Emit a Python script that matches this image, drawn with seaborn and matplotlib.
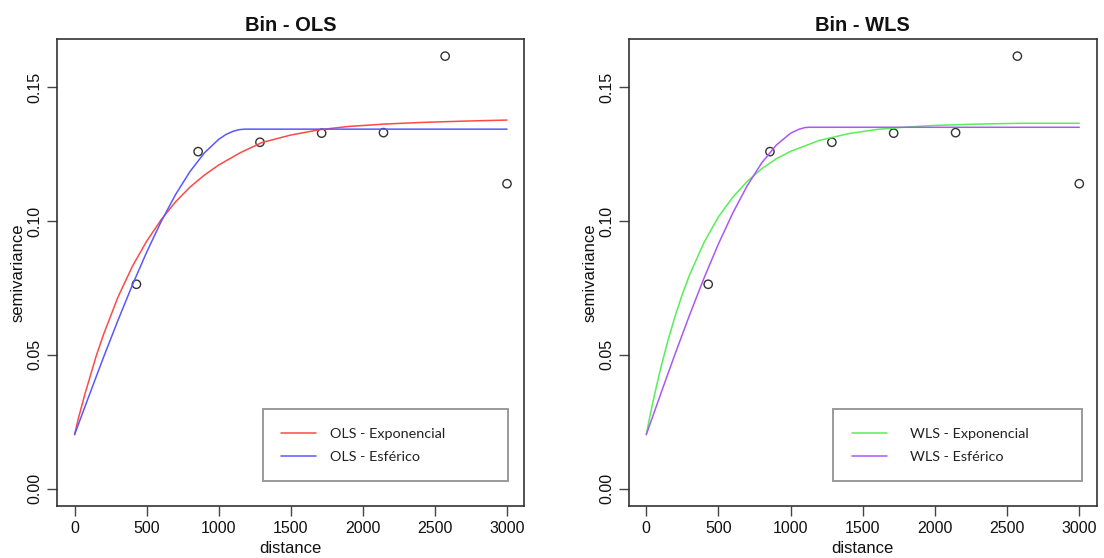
import matplotlib
matplotlib.use("Agg")
import matplotlib.pyplot as plt
import pandas as pd
import seaborn as sns

# ---- data ----
lag_dist = [429, 857, 1286, 1714, 2143, 2571, 3000]
semivar = [0.0764, 0.1260, 0.1295, 0.1329, 0.1331, 0.1617, 0.1140]

ols_exp_x = [0, 25, 50, 75, 100, 150, 200, 300, 400, 500, 600, 700, 800, 900,
             1000, 1150, 1300, 1500, 1700, 1900, 2150, 2400, 2700, 3000]
ols_exp_y = [0.0202, 0.0260, 0.0310, 0.0360, 0.0405, 0.0496, 0.0575, 0.0715,
             0.0830, 0.0925, 0.1005, 0.1072, 0.1127, 0.1172, 0.1210, 0.1256,
             0.1294, 0.1322, 0.1342, 0.1354, 0.1363, 0.1369, 0.1374, 0.1378]

ols_sph_x = [0, 100, 200, 300, 400, 500, 600, 700, 800, 900, 1000, 1050,
             1100, 1140, 1180, 3000]
ols_sph_y = [0.0202, 0.0347, 0.0490, 0.0628, 0.0760, 0.0884, 0.0998, 0.1099,
             0.1185, 0.1255, 0.1306, 0.1324, 0.1336, 0.1342, 0.1344, 0.1344]

wls_exp_x = [0, 25, 50, 75, 100, 150, 200, 250, 300, 400, 500, 600, 700, 800,
             900, 1000, 1200, 1400, 1600, 1800, 2000, 2300, 2600, 3000]
wls_exp_y = [0.0202, 0.0270, 0.0333, 0.0393, 0.0450, 0.0554, 0.0645, 0.0727,
             0.0799, 0.0920, 0.1016, 0.1090, 0.1149, 0.1196, 0.1233, 0.1261,
             0.1302, 0.1327, 0.1343, 0.1352, 0.1358, 0.1363, 0.1366, 0.1366]

wls_sph_x = [0, 100, 200, 300, 400, 500, 600, 700, 800, 900, 1000, 1060,
             1100, 1130, 3000]
wls_sph_y = [0.0202, 0.0354, 0.0504, 0.0649, 0.0787, 0.0915, 0.1031, 0.1133,
             0.1218, 0.1284, 0.1329, 0.1344, 0.1350, 0.1351, 0.1351]

x_ticks = [0, 500, 1000, 1500, 2000, 2500, 3000]
y_ticks = [0.00, 0.05, 0.10, 0.15]
y_tick_labels = ["0.00", "0.05", "0.10", "0.15"]

panels = [
    {"title": "Bin - OLS",
     "curves": [(ols_exp_x, ols_exp_y, "OLS - Exponencial", "#FF4848"),
                (ols_sph_x, ols_sph_y, "OLS - Esférico", "#5858FF")],
     "textpad": 0.91},
    {"title": "Bin - WLS",
     "curves": [(wls_exp_x, wls_exp_y, "WLS - Exponencial", "#58EE58"),
                (wls_sph_x, wls_sph_y, "WLS - Esférico", "#AA58F5")],
     "textpad": 1.6},
]

sns.set_theme(style="white")
plt.rcParams["font.family"] = ["Liberation Sans", "DejaVu Sans"]

fig = plt.figure(figsize=(11.04, 5.58), dpi=100)
positions = [[0.0519, 0.0932, 0.4230, 0.8364],
             [0.5697, 0.0932, 0.4236, 0.8364]]
legend_boxes = [(0.4398, 0.2072, 0.5259), (0.4368, 0.2072, 0.5318)]

for pos, panel, lb in zip(positions, panels, legend_boxes):
    ax = fig.add_axes(pos)
    pts = pd.DataFrame({"distance": lag_dist, "semivariance": semivar})
    sns.scatterplot(data=pts, x="distance", y="semivariance", ax=ax,
                    marker="o", s=36, facecolor="none", edgecolor="#333333",
                    linewidth=1.0, zorder=3)
    for cx, cy, lab, col in panel["curves"]:
        df = pd.DataFrame({"distance": cx, "semivariance": cy})
        sns.lineplot(data=df, x="distance", y="semivariance", ax=ax,
                     color=col, linewidth=1.1, label=lab, zorder=4)

    ax.set_xlim(-120, 3120)
    ax.set_ylim(-0.0065, 0.1680)
    ax.set_xticks(x_ticks)
    ax.set_xticklabels([str(t) for t in x_ticks])
    ax.set_yticks(y_ticks)
    ax.set_yticklabels(y_tick_labels, rotation=90, va="center")
    ax.tick_params(axis="both", which="major", direction="out", length=7,
                   width=1.0, color="#444444", labelsize=11.5,
                   labelcolor="#111111", bottom=True, left=True)
    ax.tick_params(axis="x", pad=3.9)
    ax.tick_params(axis="y", pad=3.5)
    for sp in ax.spines.values():
        sp.set_visible(True)
        sp.set_color("#333333")
        sp.set_linewidth(1.2)

    ax.set_title(panel["title"], fontsize=14.5, fontweight="bold", pad=5.9,
                 color="#111111")
    ax.set_xlabel("distance", fontsize=12, color="#111111")
    ax.xaxis.label.set_va("baseline")
    ax.xaxis.set_label_coords(0.5, -0.1013)
    ax.set_ylabel("semivariance", fontsize=12, color="#111111")
    ax.yaxis.label.set_va("baseline")
    ax.yaxis.set_label_coords(-0.074, 0.5)

    x0, ytop, w = lb
    leg = ax.legend(loc="upper left", bbox_to_anchor=(x0, ytop - 0.3, w, 0.3),
                    mode="expand", borderaxespad=0, fancybox=False,
                    frameon=True, handlelength=2.45,
                    handletextpad=panel["textpad"], borderpad=1.27,
                    labelspacing=0.77,
                    prop={"family": ["Lato", "DejaVu Sans"], "size": 10.4})
    leg.get_frame().set_edgecolor("#808080")
    leg.get_frame().set_linewidth(1.4)
    for t in leg.get_texts():
        t.set_color("#222222")

fig.savefig("out.png", dpi=100)
